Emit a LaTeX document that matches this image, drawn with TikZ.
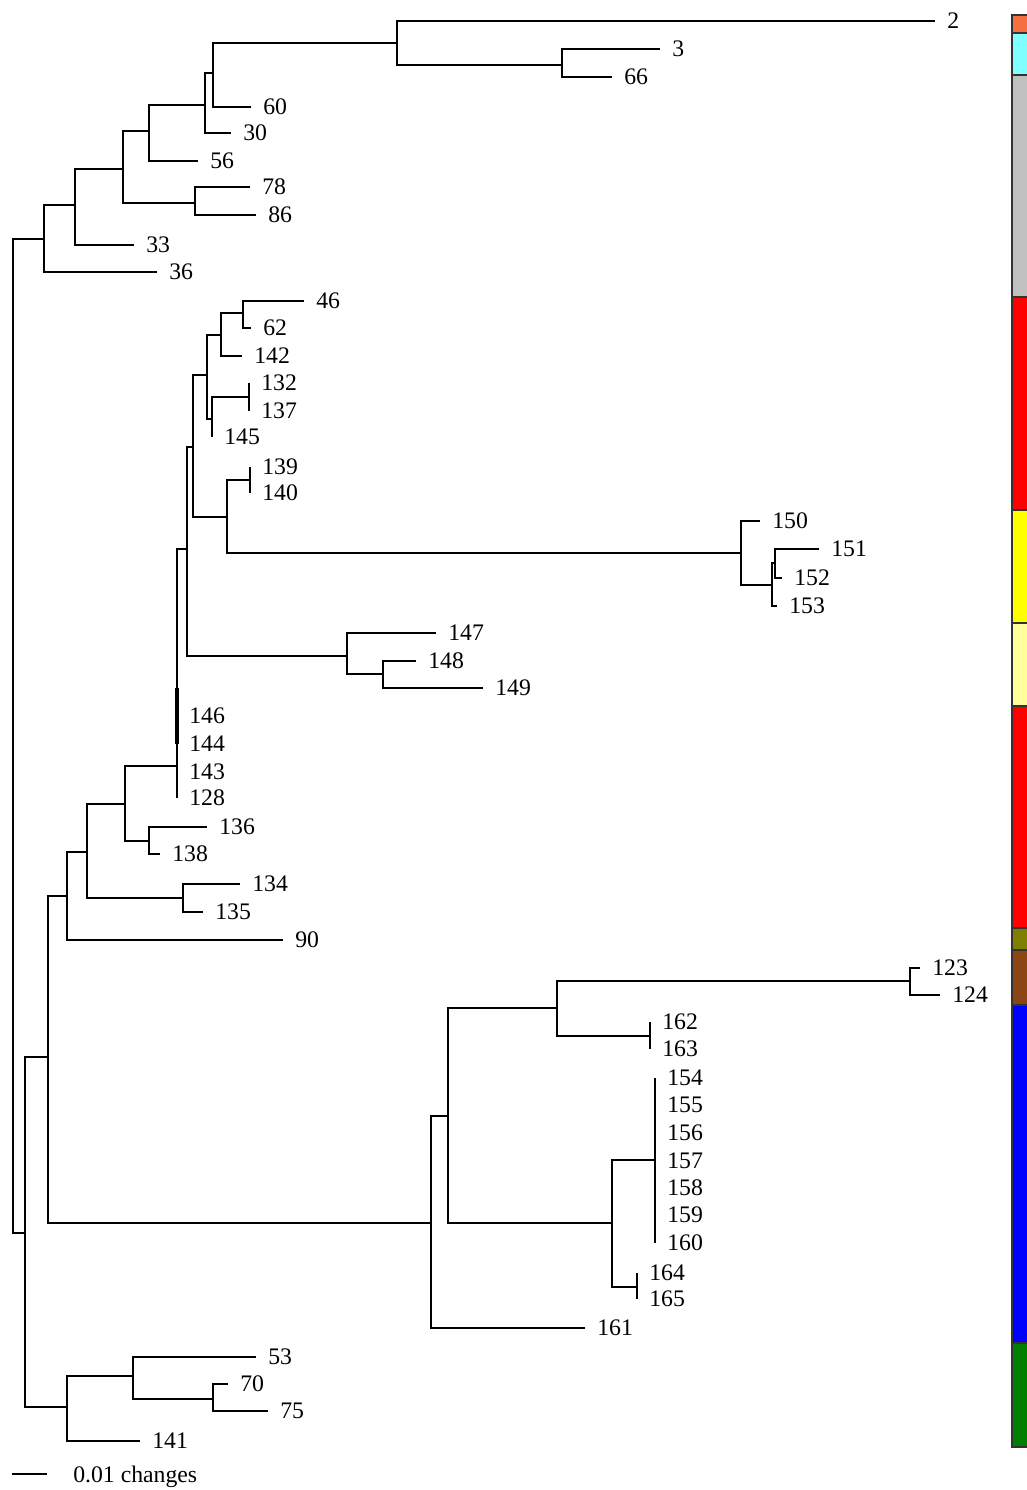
\documentclass[tikz,border=0pt]{standalone}
\usepackage{fontspec}
\setmainfont{Liberation Serif}
\definecolor{barorange}{RGB}{245,112,64}
\definecolor{barcyan}{RGB}{128,255,255}
\definecolor{bargrey}{RGB}{192,192,192}
\definecolor{barred}{RGB}{255,0,0}
\definecolor{baryellow}{RGB}{255,255,0}
\definecolor{barpale}{RGB}{255,255,153}
\definecolor{barolive}{RGB}{128,128,0}
\definecolor{barbrown}{RGB}{140,70,20}
\definecolor{barblue}{RGB}{0,0,255}
\definecolor{bargreen}{RGB}{0,128,0}
\begin{document}
\begin{tikzpicture}[x=0.02cm,y=-0.02cm,
  br/.style={line width=1.1pt},
  lab/.style={anchor=west,inner sep=0pt,xshift=0.24cm,font=\fontsize{13.5}{16}\selectfont},
  barline/.style={line width=0.8pt,draw=black!80}]
\useasboundingbox (0,0) rectangle (1027,1490);
\coordinate (r0) at (13,736);
\coordinate (a44) at (44,239);
\coordinate (a75) at (75,205);
\coordinate (a123) at (123,169);
\coordinate (a195) at (195,203);
\coordinate (a149) at (149,131);
\coordinate (a205) at (205,105);
\coordinate (a213) at (213,73);
\coordinate (a397) at (397,43);
\coordinate (a562) at (562,65);
\coordinate (t2) at (935,21);
\coordinate (t3) at (660,49);
\coordinate (t66) at (612,77);
\coordinate (t60) at (251,107);
\coordinate (t30) at (231,133);
\coordinate (t56) at (198,161);
\coordinate (t78) at (250,187);
\coordinate (t86) at (256,215);
\coordinate (t33) at (134,245);
\coordinate (t36) at (157,272);
\draw[br] (a44) |- (a75) (a44) |- (t36);
\draw[br] (a75) |- (a123) (a75) |- (t33);
\draw[br] (a123) |- (a149) (a123) |- (a195);
\draw[br] (a195) |- (t78) (a195) |- (t86);
\draw[br] (a149) |- (a205) (a149) |- (t56);
\draw[br] (a205) |- (a213) (a205) |- (t30);
\draw[br] (a213) |- (a397) (a213) |- (t60);
\draw[br] (a397) |- (t2) (a397) |- (a562);
\draw[br] (a562) |- (t3) (a562) |- (t66);
\node[lab] (l2) at (t2) {2};
\node[lab] (l3) at (t3) {3};
\node[lab] (l66) at (t66) {66};
\node[lab] (l60) at (t60) {60};
\node[lab] (l30) at (t30) {30};
\node[lab] (l56) at (t56) {56};
\node[lab] (l78) at (t78) {78};
\node[lab] (l86) at (t86) {86};
\node[lab] (l33) at (t33) {33};
\node[lab] (l36) at (t36) {36};
\coordinate (b25) at (25,1233);
\coordinate (b48) at (48,1057);
\coordinate (b67) at (67,896);
\coordinate (b88) at (87,852);
\coordinate (b183) at (183,898);
\coordinate (b123) at (125,804);
\coordinate (b148) at (149,841);
\coordinate (b177) at (177,766);
\coordinate (b186) at (187,549);
\coordinate (b347) at (347,656);
\coordinate (b383) at (383,674);
\coordinate (b193) at (193,447);
\coordinate (b227) at (227,517);
\coordinate (b250) at (250,480);
\coordinate (b741) at (741,553);
\coordinate (b772) at (772,585);
\coordinate (b775) at (775,563);
\coordinate (b207) at (207,375);
\coordinate (b221) at (221,335);
\coordinate (b243) at (243,313);
\coordinate (b212) at (212,419);
\coordinate (b249) at (249,397);
\coordinate (t46) at (304,301);
\coordinate (t62) at (251,328);
\coordinate (t142) at (242,356);
\coordinate (t132) at (249,383);
\coordinate (t137) at (249,411);
\coordinate (t145) at (212,437);
\coordinate (t139) at (250,467);
\coordinate (t140) at (250,493);
\coordinate (t150) at (760,521);
\coordinate (t151) at (819,549);
\coordinate (t152) at (782,578);
\coordinate (t153) at (777,606);
\coordinate (t147) at (436,633);
\coordinate (t148) at (416,661);
\coordinate (t149) at (483,688);
\coordinate (t146) at (177,716);
\coordinate (t144) at (177,744);
\coordinate (t143) at (177,772);
\coordinate (t128) at (177,798);
\coordinate (t136) at (207,827);
\coordinate (t138) at (160,854);
\coordinate (t134) at (240,884);
\coordinate (t135) at (203,912);
\coordinate (t90) at (283,940);
\draw[br] (b67) |- (b88) (b67) |- (t90);
\draw[br] (b88) |- (b123) (b88) |- (b183);
\draw[br] (b183) |- (t134) (b183) |- (t135);
\draw[br] (b123) |- (b177) (b123) |- (b148);
\draw[br] (b148) |- (t136) (b148) |- (t138);
\draw[br] (b177) |- (b186) (b177) |- (t146) (b177) |- (t144) (b177) |- (t143) (b177) |- (t128);
\draw[br,line width=2pt] ([yshift=0.56cm]t146) -- (t144);
\draw[br] (b186) |- (b193) (b186) |- (b347);
\draw[br] (b347) |- (t147) (b347) |- (b383);
\draw[br] (b383) |- (t148) (b383) |- (t149);
\draw[br] (b193) |- (b207) (b193) |- (b227);
\draw[br] (b227) |- (b250) (b227) |- (b741);
\draw[br] (b250) |- (t139) (b250) |- (t140);
\draw[br] (b741) |- (t150) (b741) |- (b772);
\draw[br] (b772) |- (b775) (b772) |- (t153);
\draw[br] (b775) |- (t151) (b775) |- (t152);
\draw[br] (b207) |- (b221) (b207) |- (b212);
\draw[br] (b221) |- (b243) (b221) |- (t142);
\draw[br] (b243) |- (t46) (b243) |- (t62);
\draw[br] (b212) |- (b249) (b212) |- (t145);
\draw[br] (b249) |- (t132) (b249) |- (t137);
\node[lab] (l46) at (t46) {46};
\node[lab] (l62) at (t62) {62};
\node[lab] (l142) at (t142) {142};
\node[lab] (l132) at (t132) {132};
\node[lab] (l137) at (t137) {137};
\node[lab] (l145) at (t145) {145};
\node[lab] (l139) at (t139) {139};
\node[lab] (l140) at (t140) {140};
\node[lab] (l150) at (t150) {150};
\node[lab] (l151) at (t151) {151};
\node[lab] (l152) at (t152) {152};
\node[lab] (l153) at (t153) {153};
\node[lab] (l147) at (t147) {147};
\node[lab] (l148) at (t148) {148};
\node[lab] (l149) at (t149) {149};
\node[lab] (l146) at (t146) {146};
\node[lab] (l144) at (t144) {144};
\node[lab] (l143) at (t143) {143};
\node[lab] (l128) at (t128) {128};
\node[lab] (l136) at (t136) {136};
\node[lab] (l138) at (t138) {138};
\node[lab] (l134) at (t134) {134};
\node[lab] (l135) at (t135) {135};
\node[lab] (l90) at (t90) {90};
\coordinate (d431) at (431,1223);
\coordinate (d448) at (448,1116);
\coordinate (d557) at (557,1008);
\coordinate (d910) at (910,981);
\coordinate (d650) at (650,1036);
\coordinate (d612) at (612,1223);
\coordinate (d655) at (655,1160);
\coordinate (d637) at (637,1287);
\coordinate (t123) at (920,968);
\coordinate (t124) at (940,995);
\coordinate (t162) at (650,1022);
\coordinate (t163) at (650,1049);
\coordinate (t154) at (655,1078);
\coordinate (t155) at (655,1105);
\coordinate (t156) at (655,1133);
\coordinate (t157) at (655,1161);
\coordinate (t158) at (655,1188);
\coordinate (t159) at (655,1215);
\coordinate (t160) at (655,1243);
\coordinate (t164) at (637,1273);
\coordinate (t165) at (637,1299);
\coordinate (t161) at (585,1328);
\draw[br] (d431) |- (d448) (d431) |- (t161);
\draw[br] (d448) |- (d557) (d448) |- (d612);
\draw[br] (d557) |- (d910) (d557) |- (d650);
\draw[br] (d910) |- (t123) (d910) |- (t124);
\draw[br] (d650) |- (t162) (d650) |- (t163);
\draw[br] (d612) |- (d655) (d612) |- (d637);
\draw[br] (d655) |- (t154) (d655) |- (t160);
\draw[br] (d637) |- (t164) (d637) |- (t165);
\node[lab] (l123) at (t123) {123};
\node[lab] (l124) at (t124) {124};
\node[lab] (l162) at (t162) {162};
\node[lab] (l163) at (t163) {163};
\node[lab] (l154) at (t154) {154};
\node[lab] (l155) at (t155) {155};
\node[lab] (l156) at (t156) {156};
\node[lab] (l157) at (t157) {157};
\node[lab] (l158) at (t158) {158};
\node[lab] (l159) at (t159) {159};
\node[lab] (l160) at (t160) {160};
\node[lab] (l164) at (t164) {164};
\node[lab] (l165) at (t165) {165};
\node[lab] (l161) at (t161) {161};
\coordinate (c67) at (67,1407);
\coordinate (c133) at (133,1376);
\coordinate (c213) at (213,1399);
\coordinate (t53) at (256,1357);
\coordinate (t70) at (228,1384);
\coordinate (t75) at (268,1411);
\coordinate (t141) at (140,1441);
\draw[br] (c67) |- (c133) (c67) |- (t141);
\draw[br] (c133) |- (t53) (c133) |- (c213);
\draw[br] (c213) |- (t70) (c213) |- (t75);
\node[lab] (l53) at (t53) {53};
\node[lab] (l70) at (t70) {70};
\node[lab] (l75) at (t75) {75};
\node[lab] (l141) at (t141) {141};
\draw[br] (r0) |- (a44) (r0) |- (b25);
\draw[br] (b25) |- (b48) (b25) |- (c67);
\draw[br] (b48) |- (b67) (b48) |- (d431);
\coordinate (s0) at (12,1474);
\coordinate (s1) at (47,1474);
\draw[br] (s0) -- (s1);
\node[lab,anchor=base west,xshift=0pt] (scale) at (61,1482) {0.01 changes};
\fill[barorange] (1012,15) rectangle (1027,33);
\fill[barcyan] (1012,33) rectangle (1027,75);
\fill[bargrey] (1012,75) rectangle (1027,297);
\fill[barred] (1012,297) rectangle (1027,510);
\fill[baryellow] (1012,510) rectangle (1027,623);
\fill[barpale] (1012,623) rectangle (1027,706);
\fill[barred] (1012,706) rectangle (1027,928);
\fill[barolive] (1012,928) rectangle (1027,950);
\fill[barbrown] (1012,950) rectangle (1027,1005);
\fill[barblue] (1012,1005) rectangle (1027,1343);
\fill[bargreen] (1012,1343) rectangle (1027,1447);
\draw[barline] (1027,15) -- (1012,15) -- (1012,1447) -- (1027,1447);
\draw[barline] (1012,33) -- (1027,33) (1012,75) -- (1027,75) (1012,297) -- (1027,297);
\draw[barline] (1012,510) -- (1027,510) (1012,623) -- (1027,623) (1012,706) -- (1027,706);
\draw[barline] (1012,928) -- (1027,928) (1012,950) -- (1027,950) (1012,1005) -- (1027,1005) (1012,1343) -- (1027,1343);
\end{tikzpicture}
\end{document}
